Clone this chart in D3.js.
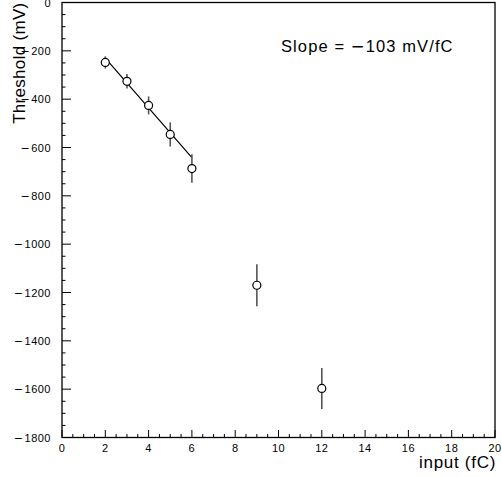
<!DOCTYPE html>
<html>
<head>
<meta charset="utf-8">
<script src="https://cdn.jsdelivr.net/npm/d3@7"></script>
<style>
  body { margin: 0; background: #fff; }
  text { font-family: "Liberation Sans", Arial, sans-serif; }
  tspan.minus { font-family: "DejaVu Sans", sans-serif; }
</style>
</head>
<body>
<script>
// measured points: input charge (fC), threshold (mV), error (mV)
var charge = [2, 3, 4, 5, 6, 9, 12];
var threshold = [-248, -326, -426, -546, -687, -1170, -1597];
var errors = [25, 30, 37, 50, 59, 87, 85];

// linear fit over the first five points
var fitRange = [2, 6];
var fitIntercept = -24, fitSlope = -103;

var xTicks = [0, 2, 4, 6, 8, 10, 12, 14, 16, 18, 20];
var yTicks = [0, -200, -400, -600, -800, -1000, -1200, -1400, -1600, -1800];

let width = 502, height = 477;
let plotL = 62, plotR = 495, plotT = 2.5, plotB = 437.5;

let svg = d3.select("body").append("svg")
    .attr("width", width)
    .attr("height", height);

let x = d3.scaleLinear().domain([0, 20]).range([plotL, plotR]);
let y = d3.scaleLinear().domain([-1800, 0]).range([plotB, plotT]);

// tick label with a long minus and a small gap, like the original
function tickLabel(sel) {
    sel.each(function (v) {
        let t = d3.select(this);
        if (v < 0) {
            t.append("tspan").attr("class", "minus").text("\u2212");
            t.append("tspan").attr("dx", 1).text(Math.abs(v));
        } else {
            t.text(v);
        }
    });
}

// frame
svg.append("rect")
    .attr("x", plotL).attr("y", plotT)
    .attr("width", plotR - plotL).attr("height", plotB - plotT)
    .attr("fill", "none").attr("stroke", "#000").attr("stroke-width", 1.3);

// x ticks (inward, minor every 0.5)
let axisX = svg.append("g");
axisX.selectAll("line")
    .data(d3.range(0, 20.01, 0.5))
    .join("line")
    .attr("x1", d => x(d)).attr("x2", d => x(d))
    .attr("y1", plotB)
    .attr("y2", d => plotB - (d % 2 === 0 ? 7.5 : 3.5))
    .attr("stroke", "#000");
axisX.selectAll("text")
    .data(xTicks)
    .join("text")
    .attr("x", d => x(d))
    .attr("y", plotB + 14)
    .attr("text-anchor", "middle")
    .attr("font-size", 11)
    .attr("letter-spacing", 0.5)
    .call(tickLabel);

// y ticks (inward, minor every 50)
let axisY = svg.append("g");
axisY.selectAll("line")
    .data(d3.range(-1800, 0.01, 50))
    .join("line")
    .attr("y1", d => y(d)).attr("y2", d => y(d))
    .attr("x1", plotL)
    .attr("x2", d => plotL + (d % 200 === 0 ? 9 : 3.5))
    .attr("stroke", "#000");
axisY.selectAll("text")
    .data(yTicks)
    .join("text")
    .attr("x", plotL - 11)
    .attr("y", d => y(d) + 4)
    .attr("text-anchor", "end")
    .attr("font-size", 11)
    .attr("letter-spacing", 0.5)
    .call(tickLabel);

// axis titles
svg.append("text")
    .attr("x", plotR + 1)
    .attr("y", 468)
    .attr("text-anchor", "end")
    .attr("font-size", 17)
    .attr("letter-spacing", 0.7)
    .text("input (fC)");

svg.append("text")
    .attr("transform", `translate(25,${plotT}) rotate(-90)`)
    .attr("text-anchor", "end")
    .attr("font-size", 17)
    .attr("letter-spacing", 0.3)
    .text("Threshold (mV)");

// fit line
svg.append("line")
    .attr("x1", x(fitRange[0])).attr("y1", y(fitIntercept + fitSlope * fitRange[0]))
    .attr("x2", x(fitRange[1])).attr("y2", y(fitIntercept + fitSlope * fitRange[1]))
    .attr("stroke", "#000").attr("stroke-width", 1.2);

// points with error bars
let pts = svg.append("g")
    .selectAll("g")
    .data(charge.map((c, i) => ({ c: c, v: threshold[i], e: errors[i] })))
    .join("g");

pts.append("line")
    .attr("x1", d => x(d.c)).attr("x2", d => x(d.c))
    .attr("y1", d => y(d.v - d.e)).attr("y2", d => y(d.v + d.e))
    .attr("stroke", "#555").attr("stroke-width", 1.6);

pts.append("circle")
    .attr("cx", d => x(d.c))
    .attr("cy", d => y(d.v))
    .attr("r", 4)
    .attr("fill", "#fff")
    .attr("stroke", "#000")
    .attr("stroke-width", 1.2);

// slope annotation
let slope = svg.append("text")
    .attr("x", 281)
    .attr("y", 52)
    .attr("font-size", 16.5)
    .attr("letter-spacing", 1.1);
slope.append("tspan").text("Slope = ");
slope.append("tspan").attr("class", "minus").text("\u2212");
slope.append("tspan").text("103 mV/fC");
</script>
</body>
</html>
